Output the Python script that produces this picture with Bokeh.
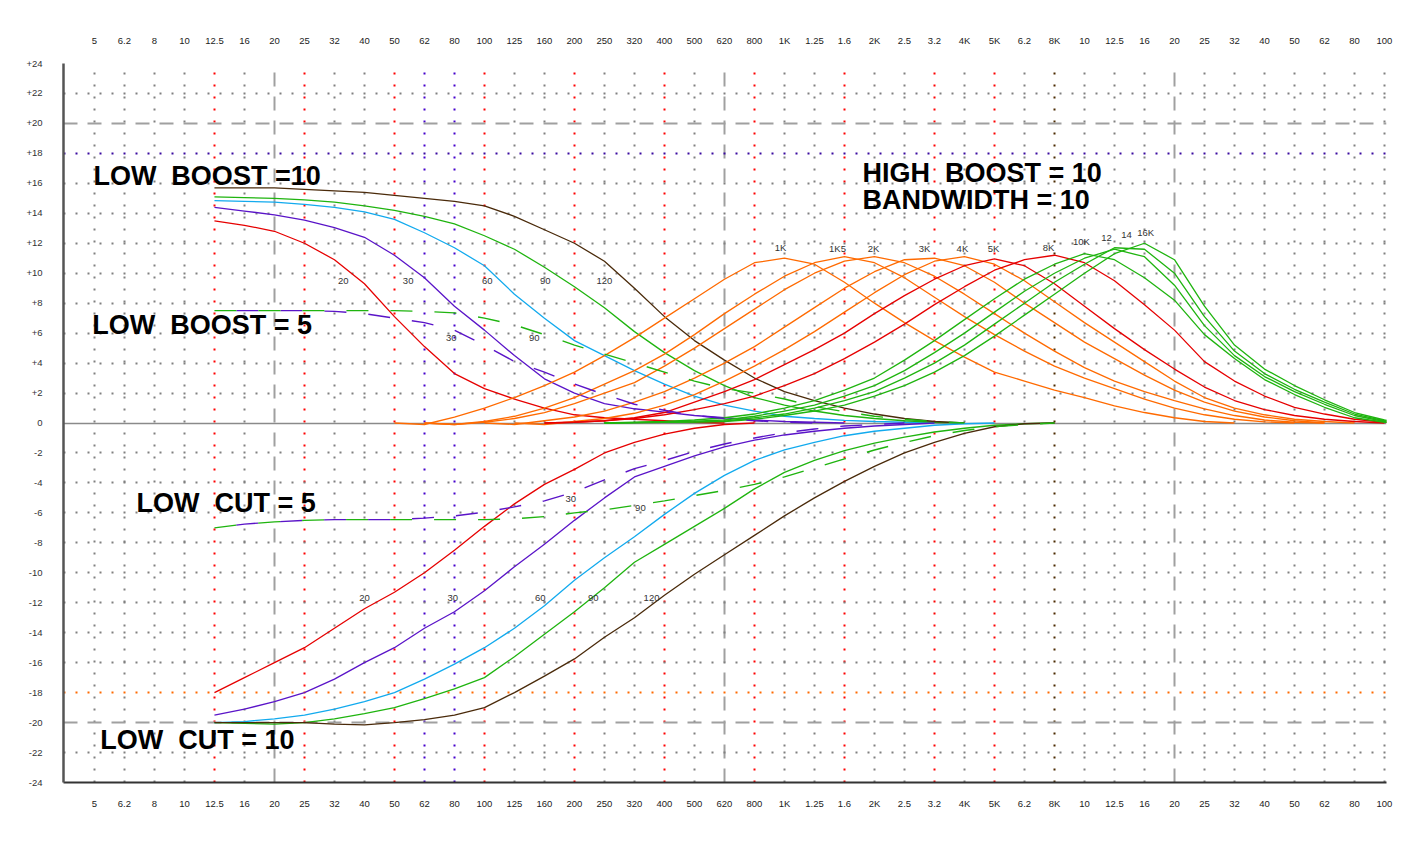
from bokeh.plotting import figure
from bokeh.models import (LogAxis, FixedTicker, CustomJSTickFormatter, Grid,
                          ColumnDataSource, BoxAnnotation)
from bokeh.embed import file_html
from bokeh.resources import INLINE
from bokeh.core.properties import value

# ---------------- axis scale: 1/3-octave bands used by the chart ----------------
BAND_HZ = [5 * 2 ** (k / 3) for k in range(45)]
BAND_LABELS = ["5", "6.2", "8", "10", "12.5", "16", "20", "25", "32", "40", "50",
               "62", "80", "100", "125", "160", "200", "250", "320", "400", "500",
               "620", "800", "1K", "1.25", "1.6", "2K", "2.5", "3.2", "4K", "5K",
               "6.2", "8K", "10", "12.5", "16", "20", "25", "32", "40", "50", "62",
               "80", "100"]
DB_TICKS = list(range(-24, 25, 2))

RED_BANDS = [4, 7, 10, 13, 16, 19, 22, 25, 28, 30]
BLUE_BANDS = [11, 12]
BROWN_BANDS = [32]
DASHED_BANDS = [6, 21, 36]

# ---------------- curves: (first band index, gains in dB per band) ----------------
LB10_20 = (4, [13.5, 13.2, 12.8, 12.0, 10.9, 9.3, 7.1, 5.1, 3.3, 2.3, 1.6, 1.0, 0.55,
               0.35, 0.25, 0.15, 0.05, 0.0])
LB10_30 = (4, [14.4, 14.15, 13.9, 13.55, 13.05, 12.4, 11.2, 9.7, 7.8, 6.2, 4.5, 2.95,
               2.0, 1.3, 0.95, 0.72, 0.5, 0.35, 0.2, 0.1, 0.05, 0.0])
LB10_60 = (4, [14.85, 14.8, 14.75, 14.6, 14.4, 14.1, 13.6, 12.7, 11.7, 10.5, 8.6, 7.0,
               5.5, 4.5, 3.5, 2.6, 1.8, 1.2, 0.8, 0.45, 0.3, 0.17, 0.1, 0.05, 0.0])
LB10_90 = (4, [15.1, 15.05, 15.0, 14.9, 14.75, 14.5, 14.2, 13.8, 13.3, 12.5, 11.6,
               10.4, 9.1, 7.7, 6.1, 4.7, 3.5, 2.5, 1.7, 1.2, 0.8, 0.5, 0.3, 0.15, 0.05,
               0.0])
LB10_120 = (4, [15.7, 15.7, 15.7, 15.6, 15.5, 15.4, 15.2, 15.0, 14.8, 14.5, 13.8, 12.9,
                12.0, 10.8, 9.0, 7.1, 5.5, 4.2, 3.0, 2.1, 1.5, 1.0, 0.6, 0.3, 0.1, 0.0])
LB5_30 = (4, [7.5, 7.5, 7.5, 7.5, 7.45, 7.3, 7.0, 6.7, 6.2, 5.2, 4.1, 3.4, 2.6, 1.9,
              1.25, 0.85, 0.5, 0.3, 0.15, 0.05, 0.0])
LB5_90 = (4, [7.5, 7.5, 7.5, 7.5, 7.5, 7.5, 7.5, 7.45, 7.35, 7.0, 6.55, 5.9, 5.2, 4.6,
              4.0, 3.4, 2.8, 2.3, 2.0, 1.6, 1.1, 0.75, 0.45, 0.25, 0.1, 0.0])
LC10_20 = (4, [-18.0, -17.0, -16.0, -15.0, -13.7, -12.4, -11.3, -10.0, -8.5, -6.9, -5.4,
               -4.1, -3.1, -2.0, -1.3, -0.75, -0.35, -0.1, 0.0])
LC10_30 = (4, [-19.5, -19.1, -18.6, -18.0, -17.1, -16.0, -15.0, -13.7, -12.6, -11.2,
               -9.6, -8.1, -6.5, -5.0, -3.6, -2.9, -2.2, -1.6, -1.15, -0.8, -0.55, -0.35,
               -0.2, -0.1, 0.0])
LC10_60 = (4, [-20.0, -19.93, -19.75, -19.5, -19.1, -18.6, -18.0, -17.1, -16.1, -15.0,
               -13.7, -12.2, -10.5, -9.0, -7.6, -6.1, -4.7, -3.5, -2.5, -1.8, -1.3, -0.85,
               -0.55, -0.35, -0.15, -0.05, 0.0])
LC10_90 = (4, [-20.0, -20.05, -20.1, -20.0, -19.75, -19.4, -19.0, -18.4, -17.75, -17.0,
               -15.6, -14.1, -12.6, -11.0, -9.3, -8.1, -6.9, -5.7, -4.4, -3.3, -2.5,
               -1.85, -1.35, -0.95, -0.6, -0.35, -0.15, -0.05, 0.0])
LC10_120 = (4, [-20.0, -20.0, -20.0, -20.0, -20.1, -20.15, -20.0, -19.8, -19.5, -19.0,
                -18.0, -16.9, -15.75, -14.3, -13.0, -11.5, -10.1, -8.8, -7.5, -6.2, -5.0,
                -3.9, -2.9, -2.0, -1.3, -0.7, -0.25, -0.05, 0.0])
LC5_30 = (4, [-7.0, -6.75, -6.6, -6.5, -6.45, -6.45, -6.45, -6.35, -6.2, -5.95, -5.6,
              -5.2, -4.6, -3.8, -3.05, -2.5, -1.9, -1.4, -1.0, -0.65, -0.4, -0.2, -0.1,
              0.0])
LC5_90 = (4, [-7.0, -6.75, -6.6, -6.5, -6.45, -6.45, -6.45, -6.45, -6.45, -6.45, -6.4,
              -6.25, -6.0, -5.8, -5.5, -5.2, -4.85, -4.5, -4.1, -3.6, -3.0, -2.4, -1.8,
              -1.3, -0.85, -0.5, -0.25, -0.1, 0.0])
HB_1K = (10, [0.0, -0.1, 0.4, 1.0, 1.7, 2.5, 3.4, 4.5, 5.7, 7.0, 8.3, 9.6, 10.7, 11.0,
              10.6, 9.4, 8.0, 6.7, 5.5, 4.4, 3.4, 2.8, 2.2, 1.7, 1.15, 0.7, 0.35, 0.1,
              0.0])
HB_1K5 = (11, [0.0, -0.1, 0.1, 0.45, 1.0, 1.7, 2.6, 3.5, 4.6, 5.9, 7.3, 8.6, 9.8, 10.7,
               11.1, 10.7, 9.7, 8.4, 7.1, 5.9, 4.8, 3.8, 3.0, 2.3, 1.6, 1.0, 0.55, 0.25,
               0.08, 0.0])
HB_2K = (11, [0.0, -0.1, 0.05, 0.3, 0.7, 1.3, 2.0, 2.7, 3.8, 5.0, 6.3, 7.6, 8.9, 10.0,
              10.8, 11.1, 10.7, 9.8, 8.6, 7.3, 6.0, 4.8, 3.7, 2.8, 2.1, 1.5, 0.95, 0.5,
              0.2, 0.05, 0.0])
HB_3K = (13, [0.0, -0.1, 0.15, 0.4, 0.8, 1.4, 2.1, 3.0, 4.0, 5.1, 6.4, 7.7, 9.0, 10.1,
              10.9, 11.0, 10.5, 9.4, 8.0, 6.7, 5.4, 4.3, 3.2, 2.2, 1.4, 0.8, 0.4, 0.15,
              0.0])
HB_4K = (14, [0.0, -0.1, 0.1, 0.3, 0.65, 1.2, 1.9, 2.8, 3.8, 4.9, 6.1, 7.4, 8.7, 9.9,
              10.8, 11.1, 10.6, 9.5, 8.1, 6.7, 5.4, 4.1, 2.8, 1.7, 1.0, 0.55, 0.25, 0.1,
              0.0])
HB_5K = (15, [0.0, 0.05, 0.15, 0.35, 0.7, 1.4, 2.1, 2.9, 3.9, 4.9, 6.0, 7.3, 8.5, 9.6,
              10.5, 10.95, 10.5, 9.3, 7.8, 6.3, 4.9, 3.6, 2.4, 1.5, 0.9, 0.5, 0.25, 0.1,
              0.0])
HB_8K = (15, [0.0, 0.05, 0.15, 0.3, 0.55, 0.9, 1.3, 1.8, 2.5, 3.3, 4.3, 5.4, 6.6, 7.9,
              9.1, 10.2, 10.9, 11.2, 10.7, 9.5, 7.9, 6.2, 4.1, 2.8, 1.8, 1.05, 0.6, 0.25,
              0.05, 0.0])
HB_10K = (17, [0.0, 0.05, 0.1, 0.2, 0.35, 0.6, 1.0, 1.5, 2.2, 3.0, 4.2, 5.5, 6.9, 8.3,
               9.6, 10.6, 11.3, 10.9, 9.7, 8.2, 5.9, 4.3, 2.9, 1.9, 1.05, 0.35, 0.05,
               0.0])
HB_12K = (17, [0.0, 0.03, 0.07, 0.12, 0.2, 0.45, 0.8, 1.2, 1.8, 2.5, 3.5, 4.7, 6.0, 7.4,
               8.8, 10.0, 11.0, 11.6, 11.1, 9.2, 6.5, 4.5, 3.1, 2.1, 1.25, 0.5, 0.1,
               0.0])
HB_14K = (17, [0.0, 0.02, 0.05, 0.08, 0.12, 0.35, 0.6, 1.0, 1.5, 2.1, 3.0, 4.0, 5.2, 6.6,
               8.0, 9.4, 10.6, 11.7, 11.6, 10.0, 7.1, 4.8, 3.3, 2.25, 1.4, 0.6, 0.15,
               0.0])
HB_16K = (17, [0.0, 0.02, 0.04, 0.06, 0.1, 0.25, 0.5, 0.8, 1.2, 1.8, 2.5, 3.4, 4.5, 5.8,
               7.2, 8.6, 10.0, 11.3, 12.0, 10.9, 7.8, 5.2, 3.6, 2.5, 1.55, 0.7, 0.2, 0.0])

RED, PURPLE, CYAN, GREEN, BROWN, ORANGE = ("#e60000", "#5a14c8", "#12aaee",
                                          "#1fb40f", "#4a2a0a", "#ff6a00")

SOLID_CURVES = [
    (LB10_20, RED), (LB10_30, PURPLE), (LB10_60, CYAN), (LB10_90, GREEN),
    (LB10_120, BROWN), (LC10_20, RED), (LC10_30, PURPLE), (LC10_60, CYAN),
    (LC10_90, GREEN), (LC10_120, BROWN),
    (HB_1K, ORANGE), (HB_1K5, ORANGE), (HB_2K, ORANGE), (HB_3K, ORANGE),
    (HB_4K, ORANGE), (HB_5K, RED), (HB_8K, RED),
    (HB_10K, GREEN), (HB_12K, GREEN), (HB_14K, GREEN), (HB_16K, GREEN),
]
DASHED_CURVES = [(LB5_30, PURPLE, 22), (LB5_90, GREEN, 0),
                 (LC5_30, PURPLE, 22), (LC5_90, GREEN, 0)]

# ---------------- curve labels ----------------
SMALL_TEXT = ["20", "30", "60", "90", "120", "30", "90", "30", "90",
              "20", "30", "60", "90", "120",
              "1K", "1K5", "2K", "3K", "4K", "5K", "8K", "10K", "12", "14", "16K"]
SMALL_HZ = [34, 56, 103, 161, 254, 78, 148, 196, 335,
            40, 79, 155, 233, 365,
            985, 1528, 2017, 2986, 4000, 5080, 7760, 10000, 12130, 14150, 16400]
SMALL_DB = [9.45, 9.45, 9.45, 9.45, 9.45, 5.7, 5.7, -5.1, -5.7,
            -11.7, -11.7, -11.7, -11.7, -11.7,
            11.72, 11.65, 11.65, 11.65, 11.65, 11.65, 11.72, 12.12, 12.32, 12.58, 12.72]

NB = "\u00a0"
BIG_TEXT = ["LOW" + NB + " BOOST =10", "LOW" + NB + " BOOST = 5", "LOW" + NB + " CUT = 5",
            "LOW" + NB + " CUT = 10", "HIGH" + NB + " BOOST = 10", "BANDWIDTH = 10"]
BIG_HZ = [4.96, 4.92, 6.91, 5.23, 1852, 1852]
BIG_DB = [16.46, 6.51, -5.31, -21.13, 16.72, 14.92]

# ---------------- figure ----------------
p = figure(x_axis_type="log", x_range=(3.94, 104830), y_range=(-24, 24),
           frame_width=1323, frame_height=719,
           min_border_left=63, min_border_right=30, min_border_top=63,
           min_border_bottom=55, toolbar_location=None, output_backend="svg",
           outline_line_color=None, background_fill_color="white",
           border_fill_color="white")

p.xgrid.grid_line_color = None
p.ygrid.grid_line_color = None

band_fmt = CustomJSTickFormatter(args=dict(labels=BAND_LABELS), code="""
    const k = Math.round(3 * Math.log2(tick / 5));
    return (k >= 0 && k < labels.length) ? labels[k] : "";
""")

def style_x_axis(ax, standoff):
    ax.ticker = FixedTicker(ticks=BAND_HZ[:44])
    ax.formatter = band_fmt
    ax.major_tick_line_color = None
    ax.minor_tick_line_color = None
    ax.major_label_text_font = "Liberation Sans"
    ax.major_label_text_font_size = "9.5px"
    ax.major_label_text_color = "#222222"
    ax.major_label_standoff = standoff

bottom = p.xaxis[0]
style_x_axis(bottom, 9)
bottom.axis_line_color = "#333333"
bottom.axis_line_width = 2

top = LogAxis()
style_x_axis(top, 12)
top.axis_line_color = None
p.add_layout(top, "above")

yax = p.yaxis[0]
yax.ticker = FixedTicker(ticks=DB_TICKS)
yax.formatter = CustomJSTickFormatter(code="return tick > 0 ? '+' + tick : String(tick);")
yax.major_tick_line_color = None
yax.minor_tick_line_color = None
yax.axis_line_color = "#555555"
yax.axis_line_width = 2.5
yax.major_label_text_font = "Liberation Sans"
yax.major_label_text_font_size = "9.5px"
yax.major_label_text_color = "#333333"
yax.major_label_standoff = 15

# ---------------- grid ----------------
special = set(RED_BANDS + BLUE_BANDS + BROWN_BANDS + DASHED_BANDS)
grey_bands = [BAND_HZ[k] for k in range(44) if k not in special]

def vgrid(ticks, color, dash="2 10", width=2):
    g = Grid(dimension=0, ticker=FixedTicker(ticks=ticks), grid_line_color=color,
             grid_line_dash=dash, grid_line_width=width)
    p.add_layout(g)

def hgrid(ticks, color, dash="2 10", width=2):
    g = Grid(dimension=1, ticker=FixedTicker(ticks=ticks), grid_line_color=color,
             grid_line_dash=dash, grid_line_width=width)
    p.add_layout(g)

vgrid(grey_bands, "#808080")
vgrid([BAND_HZ[k] for k in RED_BANDS], "#ff0000")
vgrid([BAND_HZ[k] for k in BLUE_BANDS], "#4400cc")
vgrid([BAND_HZ[k] for k in BROWN_BANDS], "#4a2a00")
vgrid([BAND_HZ[k] for k in DASHED_BANDS], "#a0a0a0", dash="14 10", width=2)

grey_rows = [d for d in DB_TICKS if d not in (-24, -20, -18, 0, 18, 20)]
hgrid(grey_rows, "#808080")
hgrid([18], "#3a0aa0")
hgrid([-18], "#ff6a00")
hgrid([-20, 20], "#a0a0a0", dash="14 10", width=2)
hgrid([0], "#8a8a8a", dash="solid", width=1.6)

# ---------------- page frame lines ----------------
p.add_layout(BoxAnnotation(left=3, right=5, top=0, bottom=841, left_units="canvas",
                           right_units="canvas", top_units="canvas",
                           bottom_units="canvas", fill_color="#666666",
                           fill_alpha=1.0, line_color=None))
p.add_layout(BoxAnnotation(left=1412, right=1414, top=0, bottom=841,
                           left_units="canvas", right_units="canvas",
                           top_units="canvas", bottom_units="canvas",
                           fill_color="#111111", fill_alpha=1.0, line_color=None))

# ---------------- curves ----------------
def band_xy(curve):
    start, gains = curve
    return BAND_HZ[start:start + len(gains)], gains

for curve, color in SOLID_CURVES:
    xs, ys = band_xy(curve)
    p.line(xs, ys, line_color=color, line_width=1.3)

for curve, color, offset in DASHED_CURVES:
    xs, ys = band_xy(curve)
    p.line(xs, ys, line_color=color, line_width=1.4, line_dash="22 22",
           line_dash_offset=offset)

small_src = ColumnDataSource(dict(x=SMALL_HZ, y=SMALL_DB, t=SMALL_TEXT))
p.text("x", "y", text="t", source=small_src, text_font=value("Liberation Sans"),
       text_font_size="9.5px", text_color="#333333", text_align="center",
       text_baseline="middle")

big_src = ColumnDataSource(dict(x=BIG_HZ, y=BIG_DB, t=BIG_TEXT))
p.text("x", "y", text="t", source=big_src, text_font=value("Liberation Sans"),
       text_font_size="27px", text_font_style="bold", text_color="#000000",
       text_align="left", text_baseline="middle")

open("out.html", "w").write(file_html(p, INLINE))
